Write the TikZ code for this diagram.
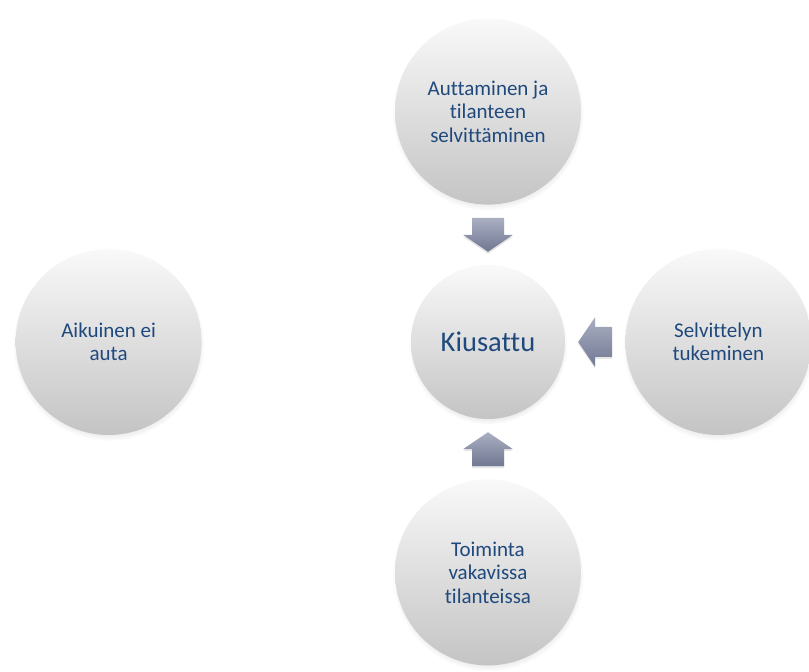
\documentclass[tikz,border=0pt]{standalone}
\usepackage{fontspec}
\setmainfont{Carlito}[Ligatures=NoCommon]
\usetikzlibrary{positioning,calc,shadows}
\definecolor{labelblue}{RGB}{31,73,125}
\definecolor{ballhi}{RGB}{249,249,249}
\definecolor{balllo}{RGB}{196,196,196}
\definecolor{arrowhi}{RGB}{170,175,194}
\definecolor{arrowlo}{RGB}{112,119,145}

\begin{document}
\begin{tikzpicture}[x=1pt, y=1pt,
    ball/.style={circle, inner sep=0pt, minimum size=186pt,
        top color=ballhi, bottom color=balllo,
        circular drop shadow={shadow xshift=0pt, shadow yshift=-3pt,
            shadow scale=1.03, opacity=0.3},
        align=center, text=labelblue, font=\fontsize{21}{23.5}\selectfont},
    hub/.style={ball, minimum size=154pt, font=\fontsize{28.5}{32}\selectfont},
    blockarrow/.style={top color=arrowhi, bottom color=arrowlo,
        drop shadow={shadow xshift=0pt, shadow yshift=-2pt, opacity=0.2}},
    node distance=60pt]
    \useasboundingbox (0,0) rectangle (809,672);
    \node[hub] (k) at (488,330) {Kiusattu};
    \node[ball, above=of k] (a) {Auttaminen ja\\tilanteen\\selvittäminen};
    \node[ball, right=of k] (s) {Selvittelyn\\tukeminen};
    \node[ball, below=of k] (t) {Toiminta\\vakavissa\\tilanteissa};
    \node[ball, left=209pt of k] (e) {Aikuinen ei\\auta};
    \coordinate (d) at ($(a.south)!0.5!(k.north)$);
    \coordinate (l) at ($(s.west)!0.5!(k.east)$);
    \coordinate (u) at ($(t.north)!0.5!(k.south)$);
    \shade[blockarrow] (d) ++(-16,17) -- ++(32,0) -- ++(0,-17) -- ++(9,0)
        -- ++(-25,-17) -- ++(-25,17) -- ++(9,0) -- cycle;
    \shade[blockarrow] (l) ++(17,15) -- ++(0,-30) -- ++(-17,0) -- ++(0,-10)
        -- ++(-17,25) -- ++(17,25) -- ++(0,-10) -- cycle;
    \shade[blockarrow] (u) ++(-16,-17) -- ++(32,0) -- ++(0,17) -- ++(9,0)
        -- ++(-25,17) -- ++(-25,-17) -- ++(9,0) -- cycle;
\end{tikzpicture}
\end{document}
